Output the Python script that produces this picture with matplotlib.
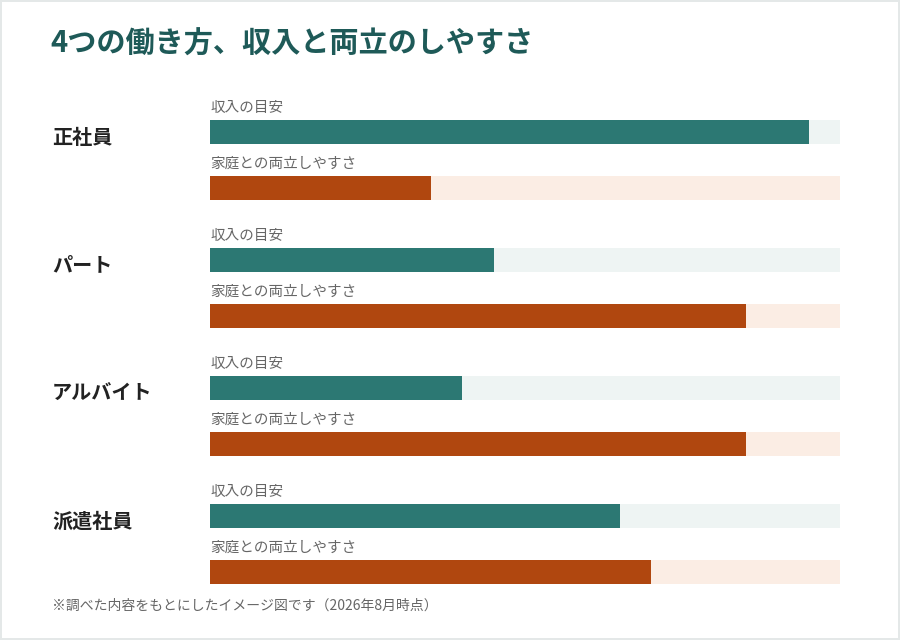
import matplotlib
matplotlib.use("Agg")
import matplotlib.pyplot as plt
from matplotlib.patches import Rectangle

plt.rcParams['font.family'] = ['Noto Sans CJK JP', 'DejaVu Sans']

# data (0-100 scale)
categories = ["正社員", "パート", "アルバイト", "派遣社員"]
income = [95, 45, 40, 65]
balance = [35, 85, 85, 70]
income_label = "収入の目安"
balance_label = "家庭との両立しやすさ"
title = "4つの働き方、収入と両立のしやすさ"
note = "※調べた内容をもとにしたイメージ図です（2026年8月時点）"

teal = "#2c7873"
teal_bg = "#eef4f3"
orange = "#b0470f"
orange_bg = "#fbede4"

W, H = 900, 640
fig = plt.figure(figsize=(W / 100, H / 100), dpi=100)
fig.patch.set_facecolor("#e4e8e8")
fig.patches.append(Rectangle((2 / W, 2 / H), (W - 4) / W, (H - 4) / H,
                             transform=fig.transFigure, facecolor="white",
                             edgecolor="none", zorder=-1))

# axes spans the bar area horizontally, y in pixels from the top
ax = fig.add_axes([210 / W, 0, 630 / W, 1])
ax.set_zorder(1)
ax.set_xlim(0, 100)
ax.set_ylim(H, 0)
ax.axis("off")
ax.patch.set_alpha(0)

bar_h = 24
first_y = 132
group_gap = 128
pair_gap = 56

for i, cat in enumerate(categories):
    y1 = first_y + i * group_gap
    y2 = y1 + pair_gap
    ax.barh(y1, 100, height=bar_h, color=teal_bg, linewidth=0)
    ax.barh(y1, income[i], height=bar_h, color=teal, linewidth=0)
    ax.barh(y2, 100, height=bar_h, color=orange_bg, linewidth=0)
    ax.barh(y2, balance[i], height=bar_h, color=orange, linewidth=0)
    ax.text(0, y1 - bar_h / 2 - 5, income_label, fontsize=10.5, color="#666666",
            ha="left", va="bottom")
    ax.text(0, y2 - bar_h / 2 - 5, balance_label, fontsize=10.5, color="#666666",
            ha="left", va="bottom")
    fig.text(52 / W, 1 - (y1 + 5) / H, cat, fontsize=14.5, fontweight="bold",
             color="#222222", ha="left", va="center")

fig.text(50 / W, 1 - 44 / H, title, fontsize=21, fontweight="bold",
         color="#1e5a58", ha="left", va="center")
fig.text(52 / W, 1 - 606 / H, note, fontsize=10, color="#666666",
         ha="left", va="center")

fig.savefig("out.png", dpi=100)
